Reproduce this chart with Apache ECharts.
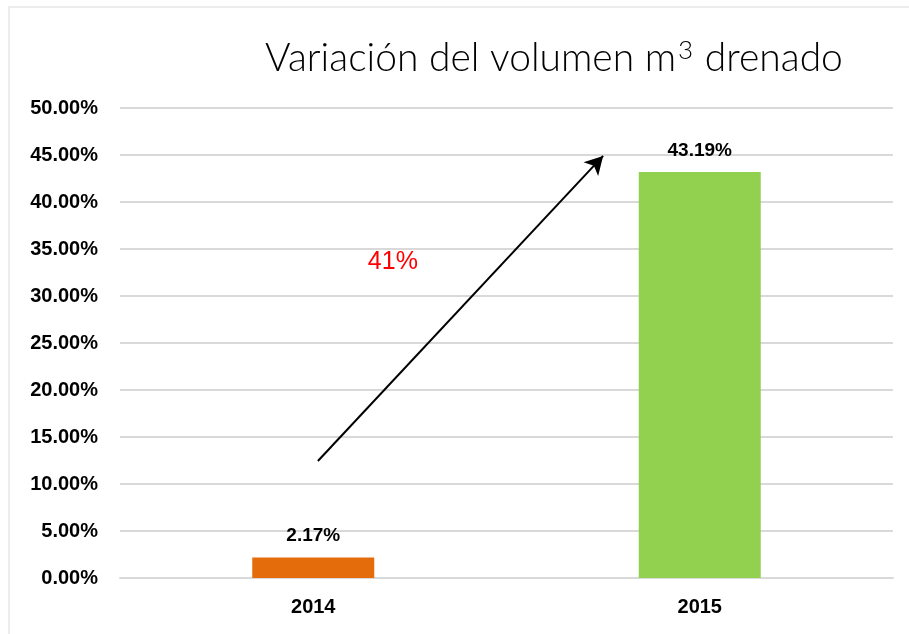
<!DOCTYPE html>
<html>
<head>
    <meta charset="utf-8">
    <title>Variación del volumen m3 drenado</title>
    <script src="https://cdn.jsdelivr.net/npm/echarts@6/dist/echarts.min.js"></script>
    <style>
        html, body { margin: 0; padding: 0; background: #fff; }
        #chart { width: 909px; height: 634px; }
    </style>
</head>
<body>
    <div id="chart"></div>
    <script>
        // datos
        var years = ['2014', '2015'];
        var variacion = [2.17, 43.19];
        var barColors = ['#E46C0A', '#92D050'];
        var yTicks = [0, 5, 10, 15, 20, 25, 30, 35, 40, 45, 50];

        // flecha y nota (posición en categorías, valor)
        var arrowFrom = [0.012, 12.45];
        var arrowTo = [0.75, 44.9];
        var nota = '41%';
        var notaPos = [0.206, 33.6];

        var chart = echarts.init(document.getElementById('chart'));

        var labelFont = {
            color: '#000',
            fontFamily: 'Liberation Sans',
            fontWeight: 'bold'
        };

        var option = {
            backgroundColor: '#fff',
            animation: false,
            title: {
                text: '{t|Variación del volumen m}{sup|3}{t| drenado}',
                left: 549,
                top: 33,
                textAlign: 'center',
                textStyle: {
                    rich: {
                        t: {
                            fontFamily: 'Lato',
                            fontWeight: 300,
                            fontSize: 39,
                            color: '#000',
                            verticalAlign: 'bottom'
                        },
                        sup: {
                            fontFamily: 'Lato',
                            fontWeight: 300,
                            fontSize: 26,
                            color: '#000',
                            verticalAlign: 'top',
                            padding: [0, 1, 14, 2]
                        }
                    }
                }
            },
            graphic: [{
                type: 'rect',
                silent: true,
                shape: { x: 9, y: 7, width: 1000, height: 700 },
                style: { fill: null, stroke: '#ececec', lineWidth: 2 }
            }],
            grid: { left: 120, right: 16, top: 108, bottom: 56 },
            xAxis: [{
                type: 'category',
                data: years,
                axisLine: { lineStyle: { color: '#d9d9d9', width: 2 } },
                axisTick: { show: false },
                axisLabel: Object.assign({ margin: 19, fontSize: 20 }, labelFont)
            }, {
                // eje auxiliar continuo para la flecha y la nota
                type: 'value',
                min: -0.5,
                max: 1.5,
                show: false
            }],
            yAxis: {
                type: 'value',
                min: yTicks[0],
                max: yTicks[yTicks.length - 1],
                interval: 5,
                axisLine: { show: false },
                axisTick: { show: false },
                splitLine: { lineStyle: { color: '#d9d9d9', width: 2 } },
                axisLabel: Object.assign({
                    margin: 22,
                    fontSize: 20,
                    formatter: function (v) { return v.toFixed(2) + '%'; }
                }, labelFont)
            },
            series: [{
                type: 'bar',
                barWidth: 122,
                data: variacion.map(function (v, i) {
                    return { value: v, itemStyle: { color: barColors[i] } };
                }),
                label: Object.assign({
                    show: true,
                    position: 'top',
                    distance: 12,
                    fontSize: 19,
                    formatter: function (p) { return p.value.toFixed(2) + '%'; }
                }, labelFont)
            }, {
                type: 'scatter',
                xAxisIndex: 1,
                data: [],
                markLine: {
                    silent: true,
                    symbol: ['none', 'arrow'],
                    symbolSize: [15, 18],
                    label: { show: false },
                    lineStyle: { color: '#000', width: 2, type: 'solid' },
                    data: [[{ coord: arrowFrom }, { coord: arrowTo }]]
                },
                markPoint: {
                    silent: true,
                    symbol: 'rect',
                    symbolSize: 0,
                    data: [{ coord: notaPos, value: nota }],
                    label: {
                        show: true,
                        position: 'inside',
                        formatter: nota,
                        color: '#ff0000',
                        fontFamily: 'Liberation Sans',
                        fontSize: 25
                    }
                }
            }]
        };

        chart.setOption(option);

        window.onresize = function () {
            chart.resize();
        };
    </script>
</body>
</html>
